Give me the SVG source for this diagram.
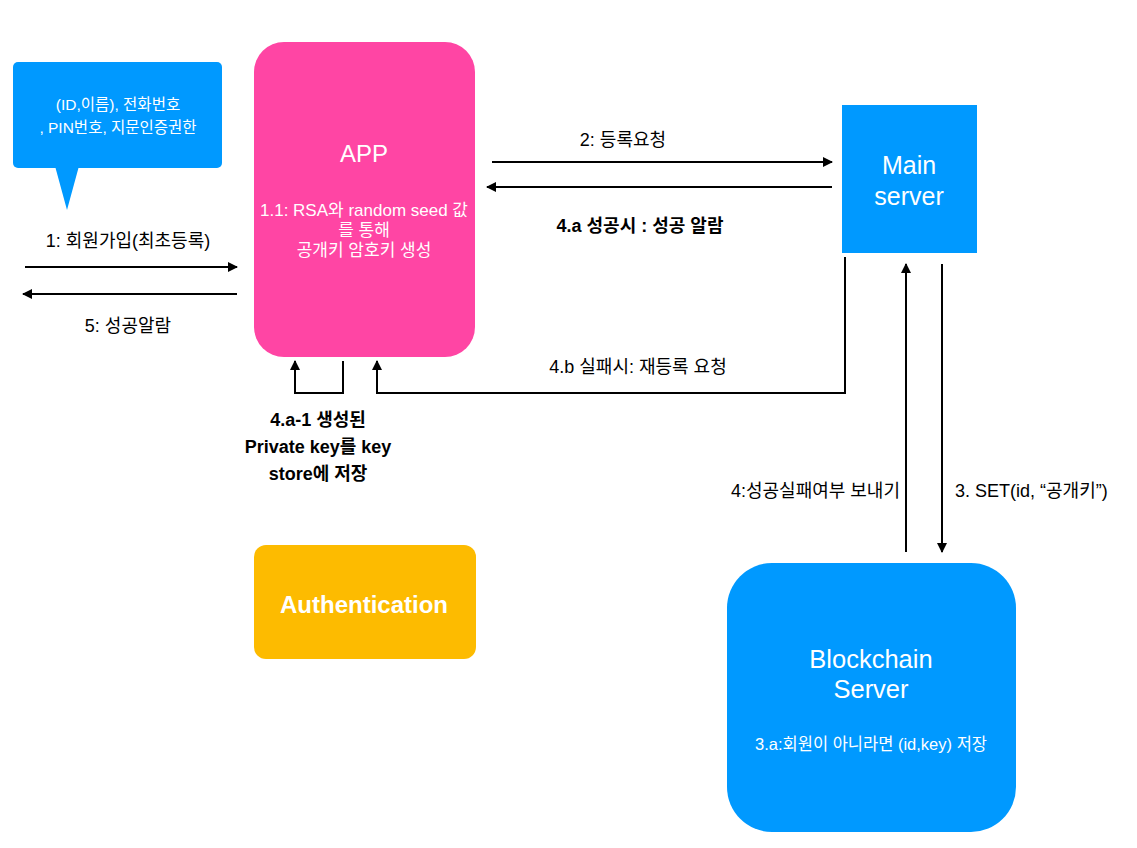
<svg xmlns="http://www.w3.org/2000/svg" width="1137" height="848" viewBox="0 0 1137 848">
<style>
text{font-family:"Liberation Sans","Noto Sans CJK KR",sans-serif;}
.w{fill:#ffffff;text-anchor:middle;}
.k{fill:#000000;font-size:18px;}
.c{text-anchor:middle;}
.b{font-weight:bold;}
.ln{stroke:#000;stroke-width:2;fill:none;}
</style>
<defs>
<marker id="ah" viewBox="0 0 10 10" refX="9" refY="5" markerWidth="10" markerHeight="10" markerUnits="userSpaceOnUse" orient="auto">
<path d="M0,0 L10,5 L0,10 z" fill="#000"/>
</marker>
</defs>
<rect width="1137" height="848" fill="#ffffff"/>
<g id="bubble">
<rect x="13" y="62" width="209" height="106" rx="5" fill="#0099FF"/>
<path d="M55,166 L79,166 L67,210 z" fill="#0099FF"/>
<text class="w" x="118" y="110" font-size="15.5">(ID,이름), 전화번호</text>
<text class="w" x="118" y="133" font-size="15.5">, PIN번호, 지문인증권한</text>
</g>
<g id="app">
<rect x="254" y="42" width="221" height="315" rx="30" fill="#FF45A4"/>
<text class="w" x="364" y="162" font-size="24">APP</text>
<text class="w" x="364" y="216" font-size="17">1.1: RSA와 random seed 값</text>
<text class="w" x="364" y="236" font-size="17">를 통해</text>
<text class="w" x="364" y="256" font-size="17">공개키 암호키 생성</text>
</g>
<g id="main-server">
<rect x="842" y="105" width="135" height="148" fill="#0099FF"/>
<text class="w" x="909" y="174" font-size="25">Main</text>
<text class="w" x="909" y="205" font-size="25">server</text>
</g>
<g id="authentication">
<rect x="254" y="545" width="222" height="114" rx="12" fill="#FDBB00"/>
<text class="w b" x="364" y="613" font-size="24">Authentication</text>
</g>
<g id="blockchain-server">
<rect x="727" y="563" width="289" height="269" rx="45" fill="#0099FF"/>
<text class="w" x="871" y="668" font-size="25.5">Blockchain</text>
<text class="w" x="871" y="698" font-size="25.5">Server</text>
<text class="w" x="871" y="750" font-size="16.5">3.a:회원이 아니라면 (id,key) 저장</text>
</g>
<g id="connectors">
<line class="ln" x1="25" y1="267" x2="237" y2="267" marker-end="url(#ah)"/>
<line class="ln" x1="237" y1="294" x2="23" y2="294" marker-end="url(#ah)"/>
<line class="ln" x1="492" y1="162" x2="832" y2="162" marker-end="url(#ah)"/>
<line class="ln" x1="832" y1="187" x2="487" y2="187" marker-end="url(#ah)"/>
<polyline class="ln" points="845,257 845,393 377,393 377,361" marker-end="url(#ah)"/>
<polyline class="ln" points="343,361 343,393 295,393 295,361" marker-end="url(#ah)"/>
<line class="ln" x1="906" y1="552" x2="906" y2="264" marker-end="url(#ah)"/>
<line class="ln" x1="942" y1="264" x2="942" y2="552" marker-end="url(#ah)"/>
</g>
<g id="labels">
<text class="k c" x="128" y="247">1: 회원가입(최초등록)</text>
<text class="k c" x="128" y="332">5: 성공알람</text>
<text class="k c" x="623" y="146">2: 등록요청</text>
<text class="k c b" x="640" y="232">4.a 성공시 : 성공 알람</text>
<text class="k c" x="638" y="373">4.b 실패시: 재등록 요청</text>
<text class="k c b" x="318" y="426">4.a-1 생성된</text>
<text class="k c b" x="318" y="453">Private key를 key</text>
<text class="k c b" x="318" y="480">store에 저장</text>
<text class="k" x="900" y="497" text-anchor="end" font-size="18.5">4:성공실패여부 보내기</text>
<text class="k" x="955" y="497" font-size="18.5">3. SET(id, “공개키”)</text>
</g>
</svg>
